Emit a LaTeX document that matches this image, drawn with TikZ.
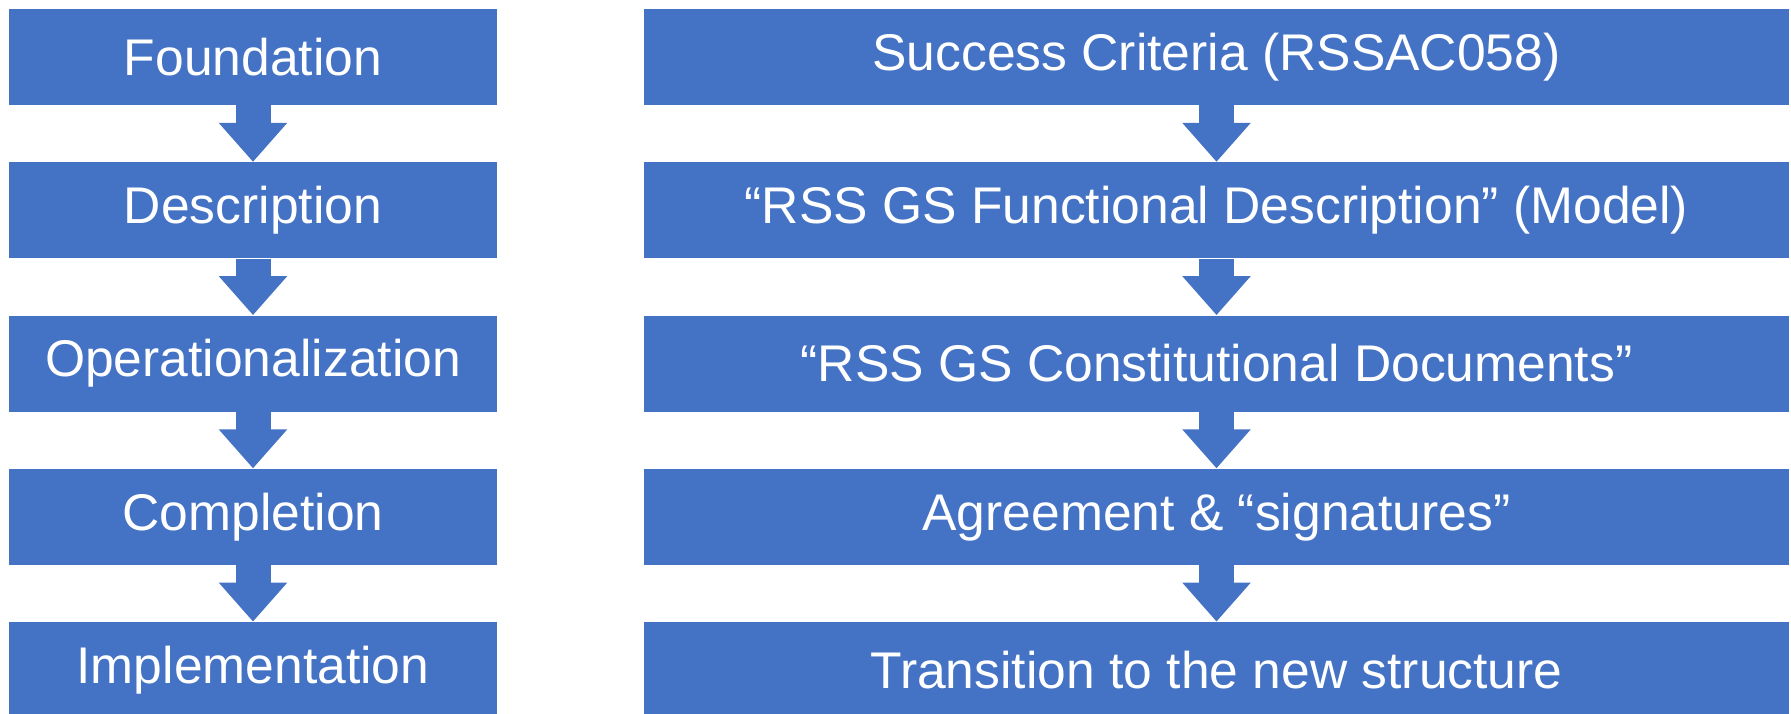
\documentclass[tikz,border=0pt]{standalone}
\usepackage{fontspec}
\setmainfont{Liberation Sans}
\usetikzlibrary{arrows.meta}
\definecolor{stageblue}{HTML}{4472C4}
\tikzset{
  stage/.style={fill=stageblue, text=white, inner sep=0pt,
    font=\fontsize{25.8}{30}\selectfont, minimum height=48pt},
  phase/.style={stage, minimum width=244pt},
  work/.style={stage, minimum width=572.5pt},
  flow/.style={stageblue, line width=17.5pt,
    -{Triangle[width=33pt,length=19.5pt]}}
}
\begin{document}
\begin{tikzpicture}[x=0.5pt,y=-0.5pt]
      \useasboundingbox (0,0) rectangle (1791,713);
      \draw
        (253,57) node[phase] (p0){Foundation}
        (253,210.25) node[phase] (p1){Description}
        (253,363.5) node[phase] (p2){Operationalization}
        (253,516.75) node[phase] (p3){Completion}
        (253,670) node[phase] (p4){Implementation};
      \draw
        (1216.5,57) node[work] (w0){Success Criteria (RSSAC058)}
        (1216.5,210.25) node[work] (w1){“RSS GS Functional Description” (Model)}
        (1216.5,363.5) node[work] (w2){“RSS GS Constitutional Documents”}
        (1216.5,516.75) node[work] (w3){Agreement \& “signatures”}
        (1216.5,670) node[work] (w4){Transition to the new structure};
      \begin{scope}[flow]
        \draw (p0) to (p1);
        \draw (p1) to (p2);
        \draw (p2) to (p3);
        \draw (p3) to (p4);
        \draw (w0) to (w1);
        \draw (w1) to (w2);
        \draw (w2) to (w3);
        \draw (w3) to (w4);
      \end{scope}
    \end{tikzpicture}
\end{document}
